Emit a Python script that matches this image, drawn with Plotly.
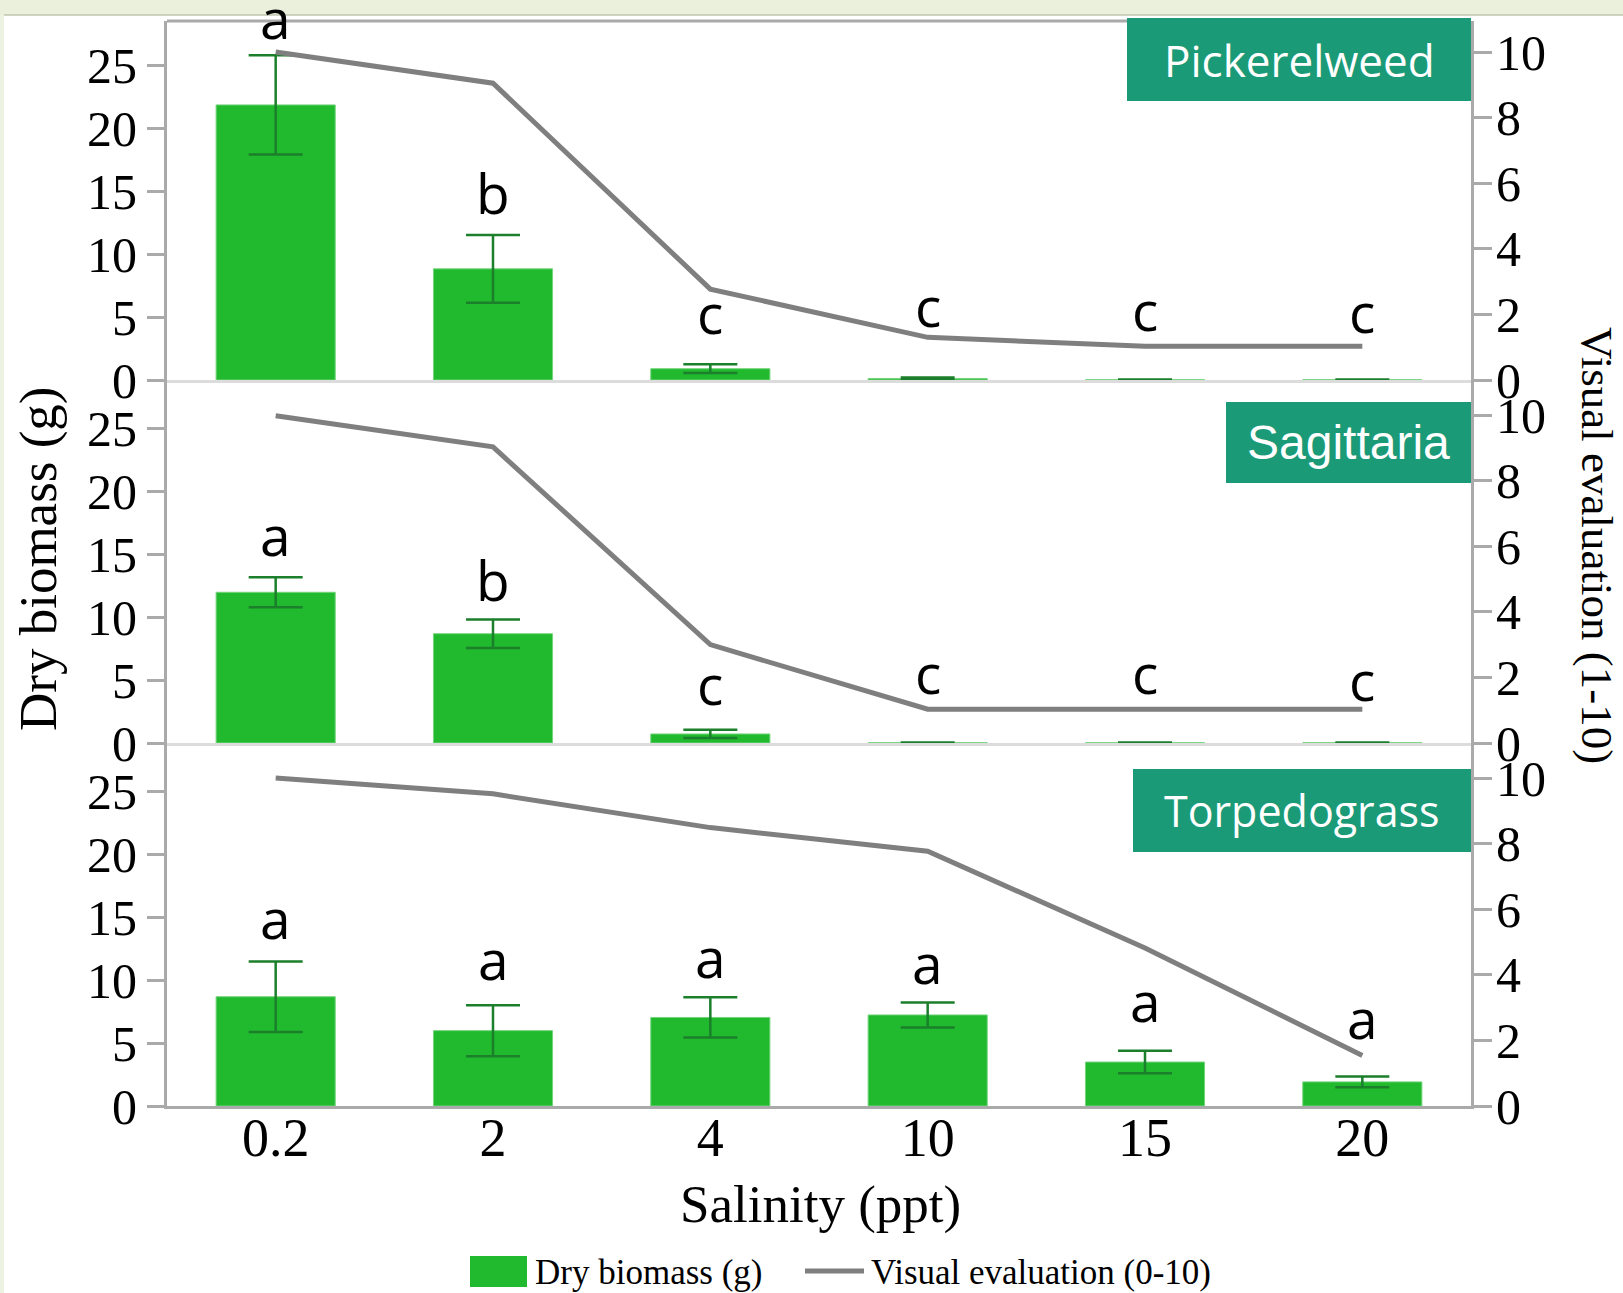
import plotly.graph_objects as go
from plotly.subplots import make_subplots

# ---- data -------------------------------------------------------------
salinity = ["0.2", "2", "4", "10", "15", "20"]
species = ["Pickerelweed", "Sagittaria", "Torpedograss"]

# dry biomass (g): mean and error
pickerel_mass = [21.9, 8.85, 0.9, 0.12, 0.02, 0.02]
pickerel_err = [3.95, 2.7, 0.35, 0.08, 0.02, 0.02]
sagitt_mass = [12.0, 8.7, 0.72, 0.02, 0.02, 0.02]
sagitt_err = [1.2, 1.13, 0.33, 0.01, 0.01, 0.01]
torpedo_mass = [8.7, 6.0, 7.05, 7.25, 3.5, 1.92]
torpedo_err = [2.8, 2.03, 1.6, 1.0, 0.9, 0.43]

# visual evaluation (0-10)
pickerel_visual = [10.0, 9.05, 2.77, 1.3, 1.03, 1.03]
sagitt_visual = [9.98, 9.03, 3.0, 1.03, 1.03, 1.03]
torpedo_visual = [10.0, 9.52, 8.49, 7.77, 4.82, 1.54]

# mean separation letters
pickerel_letters = ["a", "b", "c", "c", "c", "c"]
sagitt_letters = ["a", "b", "c", "c", "c", "c"]
torpedo_letters = ["a", "a", "a", "a", "a", "a"]

# letter heights (biomass units)
pickerel_letter_y = [28.2, 14.3, 4.7, 5.3, 5.0, 4.8]
sagitt_letter_y = [16.0, 12.35, 4.1, 5.0, 5.0, 4.4]
torpedo_letter_y = [14.4, 11.1, 11.3, 10.8, 7.8, 6.4]

mass_ticks = [0, 5, 10, 15, 20, 25]
visual_ticks = [0, 2, 4, 6, 8, 10]

# ---- geometry ---------------------------------------------------------
W, H = 1623, 1293
ML, MR, MT, MB = 167, 152, 21, 187
PW, PH = W - ML - MR, H - MT - MB
Y0 = H - MB


def px(x):
    return (x - ML) / PW


def py(y):
    return (Y0 - y) / PH


BAR_GREEN = "#21ba2f"
ERR_GREEN = "#1b7f2b"
LINE_GRAY = "#7f7f7f"
AXIS_GRAY = "#aaaaaa"
TAG_TEAL = "#1b9a78"
SERIF = "Liberation Serif, Times New Roman, serif"

panels = [
    (pickerel_mass, pickerel_err, pickerel_visual, pickerel_letters, pickerel_letter_y),
    (sagitt_mass, sagitt_err, sagitt_visual, sagitt_letters, sagitt_letter_y),
    (torpedo_mass, torpedo_err, torpedo_visual, torpedo_letters, torpedo_letter_y),
]

fig = make_subplots(rows=3, cols=1, shared_xaxes=True, vertical_spacing=0,
                    specs=[[{"secondary_y": True}]] * 3)

# panel heights in px: top 359, middle 363, bottom 363
dom_edges = [1.0, 726 / PH, 363 / PH, 0.0]
mass_top = [28.58, 28.9, 28.9]
vis_top = [10.945, 11.07, 11.07]

for i, (mass, err, vis, letters, ly) in enumerate(panels):
    r = i + 1
    fig.add_trace(go.Bar(
        x=salinity, y=mass, marker=dict(color=BAR_GREEN, line=dict(color="#74d47c", width=1)),
        error_y=dict(type="data", array=err, color=ERR_GREEN, thickness=2.5, width=27),
        showlegend=False), row=r, col=1, secondary_y=False)
    fig.add_trace(go.Scatter(
        x=salinity, y=vis, mode="lines", line=dict(color=LINE_GRAY, width=5),
        showlegend=False), row=r, col=1, secondary_y=True)

    dom = [dom_edges[i + 1], dom_edges[i]]
    fig.update_yaxes(row=r, col=1, secondary_y=False, domain=dom, range=[0, mass_top[i]],
                     tickvals=mass_ticks, ticks="outside", ticklen=17, tickwidth=3,
                     tickcolor=AXIS_GRAY, showline=True, linecolor=AXIS_GRAY, linewidth=3,
                     showgrid=False, zeroline=False,
                     tickfont=dict(family=SERIF, size=50, color="black"))
    fig.update_yaxes(row=r, col=1, secondary_y=True, domain=dom, range=[0, vis_top[i]],
                     tickvals=visual_ticks, ticks="outside", ticklen=18, tickwidth=3,
                     tickcolor=AXIS_GRAY, showline=True, linecolor=AXIS_GRAY, linewidth=3,
                     showgrid=False, zeroline=False, ticklabelstandoff=-6,
                     tickfont=dict(family=SERIF, size=50, color="black"))
    last = r == 3
    fig.update_xaxes(row=r, col=1, type="category", range=[-0.5, 5.5], domain=[0, 1],
                     showline=True, linecolor=AXIS_GRAY if last else "#dcdcdc",
                     linewidth=3, showgrid=False, ticks="",
                     showticklabels=last, ticklabelstandoff=-18,
                     tickfont=dict(family=SERIF, size=54, color="black"))

    # significance letters, placed by category position
    yref = fig.data[-2].yaxis
    xref = fig.data[-2].xaxis
    for j, (txt, yy) in enumerate(zip(letters, ly)):
        fig.add_annotation(x=j, y=yy, xref=xref, yref=yref, text=txt, showarrow=False,
                           yanchor="middle", xanchor="center", yshift=8,
                           font=dict(family="Open Sans", size=55, color="black"))

shapes = []
annos = []

# slide background bands
shapes.append(dict(type="rect", xref="paper", yref="paper", x0=px(0), x1=px(W),
                   y0=py(15), y1=py(0), fillcolor="#ebf0dd", line_width=0, layer="below"))
shapes.append(dict(type="rect", xref="paper", yref="paper", x0=px(0), x1=px(4),
                   y0=py(H), y1=py(15), fillcolor="#eef2e3", line_width=0, layer="below"))
shapes.append(dict(type="line", xref="paper", yref="paper", x0=px(4), x1=px(W),
                   y0=py(15), y1=py(15), line=dict(color="#bfc4ae", width=1.5)))

# top frame line
shapes.append(dict(type="line", xref="paper", yref="paper", x0=0, x1=1, y0=1, y1=1,
                   line=dict(color=AXIS_GRAY, width=3)))

# species tags
tags = [
    ("Pickerelweed", 1127, 18, 1471, 101, "Open Sans", 44),
    ("Sagittaria", 1226, 402, 1471, 483, "Liberation Sans", 48),
    ("Torpedograss", 1133, 769, 1471, 852, "Open Sans", 43),
]
for name, x0, y0, x1, y1, fam, size in tags:
    shapes.append(dict(type="rect", xref="paper", yref="paper", x0=px(x0), x1=px(x1),
                       y0=py(y1), y1=py(y0), fillcolor=TAG_TEAL, line_width=0, layer="above"))
    annos.append(dict(xref="paper", yref="paper", x=px((x0 + x1) / 2), y=py((y0 + y1) / 2),
                      text=name, showarrow=False, xanchor="center", yanchor="middle",
                      font=dict(family=fam, size=size, color="white")))

# axis titles
annos.append(dict(xref="paper", yref="paper", x=px(38), y=py(559), text="Dry biomass (g)",
                  textangle=-90, showarrow=False, xanchor="center", yanchor="middle",
                  font=dict(family=SERIF, size=53, color="black")))
annos.append(dict(xref="paper", yref="paper", x=px(1597), y=py(545),
                  text="Visual evaluation (1-10)", textangle=90, showarrow=False,
                  xanchor="center", yanchor="middle", borderpad=0,
                  font=dict(family=SERIF, size=45, color="black")))
annos.append(dict(xref="paper", yref="paper", x=px(820), y=py(1204), text="Salinity (ppt)",
                  showarrow=False, xanchor="center", yanchor="middle",
                  font=dict(family=SERIF, size=53, color="black")))

# legend
shapes.append(dict(type="rect", xref="paper", yref="paper", x0=px(470), x1=px(527),
                   y0=py(1287), y1=py(1256), fillcolor=BAR_GREEN, line_width=0))
annos.append(dict(xref="paper", yref="paper", x=px(533), y=py(1272), text="Dry biomass (g)",
                  showarrow=False, xanchor="left", yanchor="middle",
                  font=dict(family=SERIF, size=35, color="black")))
shapes.append(dict(type="line", xref="paper", yref="paper", x0=px(805), x1=px(864),
                   y0=py(1271), y1=py(1271), line=dict(color=LINE_GRAY, width=5)))
annos.append(dict(xref="paper", yref="paper", x=px(869), y=py(1272),
                  text="Visual evaluation (0-10)", showarrow=False, xanchor="left",
                  yanchor="middle", font=dict(family=SERIF, size=35, color="black")))

for s in shapes:
    fig.add_shape(**s)
for a in annos:
    fig.add_annotation(**a)

fig.update_layout(
    width=W, height=H,
    margin=dict(l=ML, r=MR, t=MT, b=MB, pad=0),
    paper_bgcolor="white", plot_bgcolor="white",
    bargap=0.452, showlegend=False,
    font=dict(family=SERIF, color="black"),
)

fig.write_html("out.html")
